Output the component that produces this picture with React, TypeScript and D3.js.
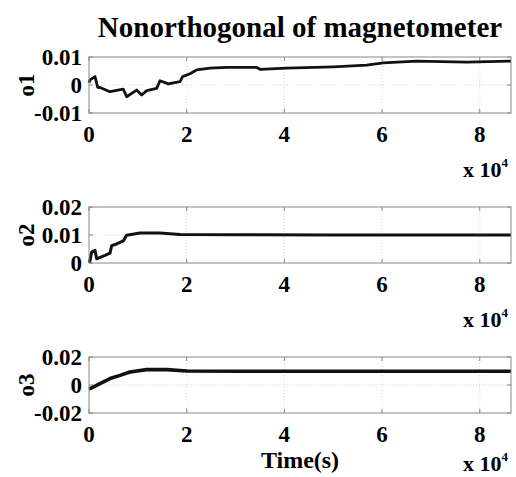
import React from "react";
import * as d3 from "d3";

// time (s) and value samples
const o1Time = [0, 200, 1228, 1774, 2252, 4299, 7028, 7710, 8735, 9759, 10783, 11806, 13853, 14534, 16240, 17263, 18628, 19174, 20675, 22040, 24770, 28180, 34322, 35000, 40460, 50014, 56838, 60250, 67074, 77310, 86400];
const o1Value = [0.0008, 0.0018, 0.003, -0.0008, -0.0009, -0.0024, -0.0015, -0.0042, -0.003, -0.0018, -0.0036, -0.002, -0.0012, 0.0015, 0.0004, 0.0008, 0.0012, 0.003, 0.004, 0.0054, 0.006, 0.0063, 0.0063, 0.0056, 0.006, 0.0065, 0.0071, 0.0079, 0.0085, 0.0082, 0.0085];

const o2Time = [0, 200, 550, 1230, 1570, 3275, 4300, 4640, 5660, 7030, 7710, 10440, 14530, 18630, 30900, 50000, 86400];
const o2Value = [0.0002, 0.0008, 0.0039, 0.0045, 0.0015, 0.0027, 0.0035, 0.0062, 0.0068, 0.0079, 0.0099, 0.0107, 0.0107, 0.0102, 0.0101, 0.01, 0.01];

const o3Time = [0, 200, 2250, 4300, 6350, 8390, 11800, 15900, 20000, 30900, 50000, 86400];
const o3Value = [-0.0028, -0.0026, 0.001, 0.0046, 0.0069, 0.0093, 0.011, 0.011, 0.01, 0.0098, 0.0098, 0.0098];

const xTicks = [0, 20000, 40000, 60000, 80000];
const xTickLabels = ["0", "2", "4", "6", "8"];

const panels = [
  { label: "o1", time: o1Time, value: o1Value, domain: [-0.01, 0.01], ticks: [-0.01, 0, 0.01], tickLabels: ["-0.01", "0", "0.01"], width: 2.8 },
  { label: "o2", time: o2Time, value: o2Value, domain: [0, 0.02], ticks: [0, 0.01, 0.02], tickLabels: ["0", "0.01", "0.02"], width: 3 },
  { label: "o3", time: o3Time, value: o3Value, domain: [-0.02, 0.02], ticks: [-0.02, 0, 0.02], tickLabels: ["-0.02", "0", "0.02"], width: 3.6 },
];

const W = 516;
const H = 477;
const left = 89;
const right = 511;
const panelTop = 57;
const panelH = 56;
const step = 150;
const font = "'Liberation Serif', 'Times New Roman', serif";

function Panel({ p, top, last }: any) {
  const x = d3.scaleLinear().domain([0, 86400]).range([left, right]);
  const y = d3.scaleLinear().domain(p.domain).range([top + panelH, top]);
  const pts: [number, number][] = p.time.map((t: number, i: number) => [t, p.value[i]]);
  const line = d3.line<[number, number]>().x((d) => x(d[0])).y((d) => y(d[1]));
  const bottom = top + panelH;
  return (
    <g>
      <rect x={left} y={top} width={right - left} height={panelH} fill="#fff" />
      {/* grid */}
      {xTicks.slice(1).map((t) => (
        <line key={"gx" + t} x1={x(t)} x2={x(t)} y1={top} y2={bottom} stroke="#c8c8c8" strokeWidth={0.8} strokeDasharray="1 2" />
      ))}
      {p.ticks.slice(1, -1).map((t: number) => (
        <line key={"gy" + t} x1={left} x2={right} y1={y(t)} y2={y(t)} stroke="#c8c8c8" strokeWidth={0.8} strokeDasharray="1 2" />
      ))}
      {/* ticks */}
      {xTicks.map((t) => (
        <g key={"tx" + t}>
          <line x1={x(t)} x2={x(t)} y1={bottom} y2={bottom - 4} stroke="#888" />
          <line x1={x(t)} x2={x(t)} y1={top} y2={top + 4} stroke="#888" />
        </g>
      ))}
      {p.ticks.map((t: number) => (
        <g key={"ty" + t}>
          <line x1={left} x2={left + 4} y1={y(t)} y2={y(t)} stroke="#888" />
          <line x1={right} x2={right - 4} y1={y(t)} y2={y(t)} stroke="#888" />
        </g>
      ))}
      <path d={line(pts) || ""} fill="none" stroke="#111" strokeWidth={p.width} strokeLinejoin="round" />
      <rect x={left} y={top} width={right - left} height={panelH} fill="none" stroke="#888" strokeWidth={1} />
      {/* labels */}
      {p.ticks.map((t: number, i: number) => (
        <text key={"ly" + t} x={left - 7} y={y(t)} dy="0.35em" textAnchor="end" fontSize={23} fontWeight="bold" fontFamily={font}>
          {p.tickLabels[i]}
        </text>
      ))}
      {xTicks.map((t, i) => (
        <text key={"lx" + t} x={x(t)} y={bottom + 29} textAnchor="middle" fontSize={23} fontWeight="bold" fontFamily={font}>
          {xTickLabels[i]}
        </text>
      ))}
      <text x={463} y={last ? bottom + 58 : bottom + 64} fontSize={22} fontWeight="bold" fontFamily={font}>
        x 10<tspan fontSize={13} dy={-10}>4</tspan>
      </text>
      <text transform={`translate(34,${top + panelH / 2}) rotate(-90)`} textAnchor="middle" fontSize={23} fontWeight="bold" fontFamily={font}>
        {p.label}
      </text>
      {last && (
        <text x={300} y={bottom + 55} textAnchor="middle" fontSize={24} fontWeight="bold" fontFamily={font}>
          Time(s)
        </text>
      )}
    </g>
  );
}

export default function App() {
  return (
    <svg width={W} height={H} style={{ position: "absolute", left: 0, top: 0, background: "#fff" }}>
      <text x={300} y={37} textAnchor="middle" fontSize={29} fontWeight="bold" fontFamily={font}>
        Nonorthogonal of magnetometer
      </text>
      {panels.map((p, i) => (
        <Panel key={p.label} p={p} top={panelTop + i * step} last={i === panels.length - 1} />
      ))}
    </svg>
  );
}
